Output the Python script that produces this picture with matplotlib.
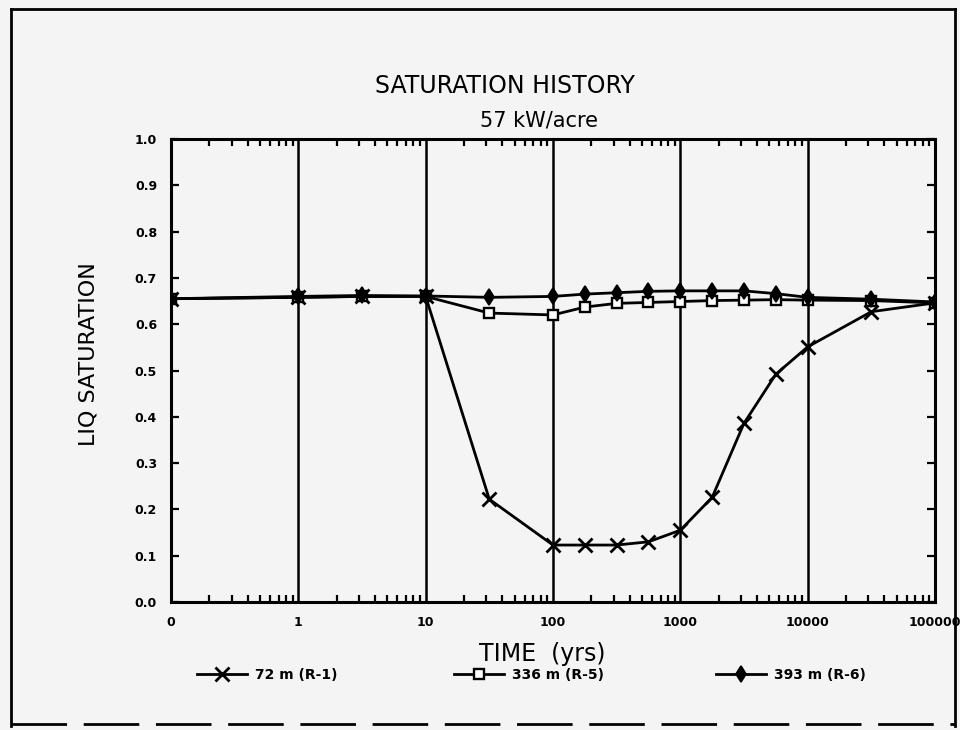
import matplotlib
matplotlib.use("Agg")
import matplotlib.pyplot as plt
from matplotlib.lines import Line2D
from matplotlib.ticker import FixedLocator, LogLocator, NullFormatter, FixedFormatter

# Time in years (log axis) and liquid saturation at three depths
time_yrs = [0.1, 1, 3.16, 10, 31.6, 100, 178, 316, 562, 1000, 1778, 3162, 5623, 10000, 31623, 100000]
sat_72m = [0.655, 0.658, 0.660, 0.660, 0.222, 0.123, 0.123, 0.123, 0.130, 0.155, 0.226, 0.386, 0.492, 0.551, 0.627, 0.646]
sat_336m = [0.655, 0.658, 0.660, 0.660, 0.624, 0.620, 0.637, 0.645, 0.647, 0.649, 0.651, 0.652, 0.653, 0.652, 0.651, 0.646]
sat_393m = [0.655, 0.660, 0.662, 0.661, 0.658, 0.660, 0.665, 0.668, 0.671, 0.672, 0.672, 0.672, 0.666, 0.658, 0.654, 0.648]

series_labels = ["72 m (R-1)", "336 m (R-5)", "393 m (R-6)"]
x_ticks = [0.1, 1, 10, 100, 1000, 10000, 100000]
x_tick_labels = ["0", "1", "10", "100", "1000", "10000", "100000"]
y_ticks = [0.0, 0.1, 0.2, 0.3, 0.4, 0.5, 0.6, 0.7, 0.8, 0.9, 1.0]
y_tick_labels = ["0.0", "0.1", "0.2", "0.3", "0.4", "0.5", "0.6", "0.7", "0.8", "0.9", "1.0"]

FONT = ["DejaVu Sans"]
plt.rcParams["font.family"] = FONT
BG = "#f4f4f4"

fig = plt.figure(figsize=(9.6, 7.3), dpi=100, facecolor=BG)
ax = fig.add_axes([171 / 960, 128 / 730, 764 / 960, 463 / 730], facecolor=BG)

ax.set_xscale("log")
ax.set_xlim(0.1, 100000)
ax.set_ylim(0.0, 1.0)

# vertical decade grid lines
for xv in x_ticks[1:-1]:
    ax.axvline(xv, color="black", lw=1.8, zorder=1)

lw = 2.0
l1, = ax.plot(time_yrs, sat_72m, color="black", lw=lw, marker="x", ms=10, mew=2.0, zorder=3)
l2, = ax.plot(time_yrs, sat_336m, color="black", lw=lw, marker="s", ms=6.5, mfc="white", mew=1.7, zorder=3)
l3, = ax.plot(time_yrs, sat_393m, color="black", lw=lw, marker="d", ms=8, mfc="black", mew=1.2, zorder=4)

for sp in ax.spines.values():
    sp.set_linewidth(2.2)

ax.xaxis.set_major_locator(FixedLocator(x_ticks))
ax.xaxis.set_major_formatter(FixedFormatter(x_tick_labels))
ax.xaxis.set_minor_locator(LogLocator(base=10, subs=range(2, 10), numticks=20))
ax.xaxis.set_minor_formatter(NullFormatter())
ax.yaxis.set_major_locator(FixedLocator(y_ticks))
ax.yaxis.set_major_formatter(FixedFormatter(y_tick_labels))

ax.tick_params(axis="x", which="major", direction="in", top=True, length=0, pad=10,
               labelsize=9)
ax.tick_params(axis="x", which="minor", direction="in", top=True, length=5, width=1.6)
ax.tick_params(axis="y", which="major", direction="in", right=True, length=6, width=1.6,
               pad=10, labelsize=9)
for lab in ax.get_xticklabels() + ax.get_yticklabels():
    lab.set_fontweight("bold")

ax.set_ylabel("LIQ SATURATION", fontsize=16)
ax.yaxis.set_label_coords(-0.095, 0.535)

fig.text(505 / 960, 1 - 86 / 730, "SATURATION HISTORY", ha="center", va="center", fontsize=17)
fig.text(539 / 960, 1 - 120 / 730, "57 kW/acre", ha="center", va="center", fontsize=15)
fig.text(542 / 960, 1 - 654 / 730, "TIME  (yrs)", ha="center", va="center", fontsize=17)

# legend row below the x label, one entry per depth
legend_x = [190 / 960, 447 / 960, 709 / 960]
for handle, label, lx in zip([l1, l2, l3], series_labels, legend_x):
    fig.legend([handle], [label], loc="center left", bbox_to_anchor=(lx, 1 - 675 / 730),
               frameon=False, handlelength=3.6, handletextpad=0.6, borderpad=0,
               prop={"family": FONT, "size": 10, "weight": "bold"})

# page frame
fig.add_artist(Line2D([11 / 960, 955 / 960], [1 - 9 / 730, 1 - 9 / 730], color="black", lw=2,
                      transform=fig.transFigure))
fig.add_artist(Line2D([11 / 960, 11 / 960], [1 - 9 / 730, 1 - 726 / 730], color="black", lw=2,
                      transform=fig.transFigure))
fig.add_artist(Line2D([955 / 960, 955 / 960], [1 - 9 / 730, 1 - 726 / 730], color="black", lw=2,
                      transform=fig.transFigure))
fig.add_artist(Line2D([11 / 960, 955 / 960], [1 - 724 / 730, 1 - 724 / 730], color="black", lw=2,
                      ls=(0, (20, 6)), transform=fig.transFigure))

fig.savefig("out.png", dpi=100, facecolor=BG)
